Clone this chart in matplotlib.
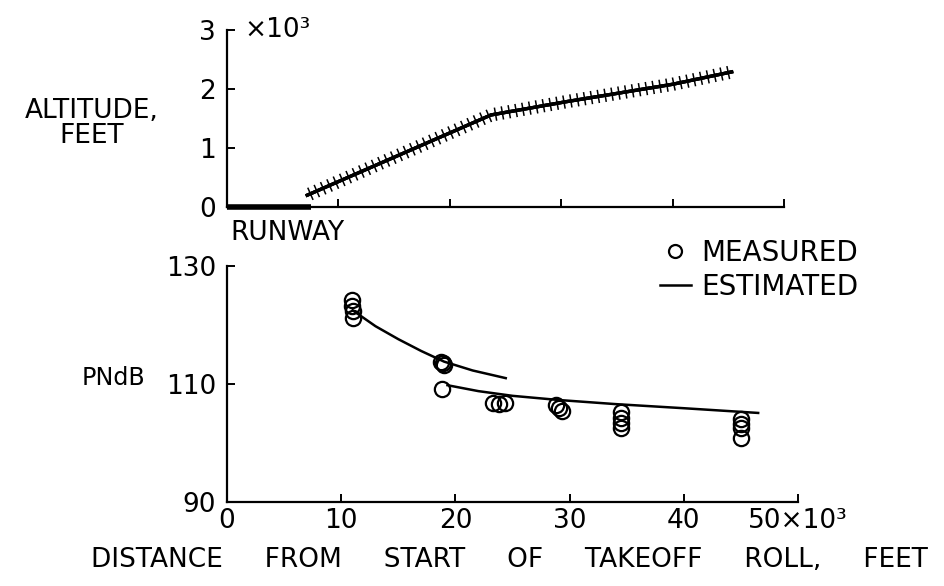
import matplotlib
matplotlib.use("Agg")
import matplotlib.pyplot as plt
import matplotlib.patheffects as pe

# altitude profile (distance in 1000 ft, altitude in ft)
runway_x = [0, 7.5]
runway_alt = [0, 0]
climb_x = [7.2, 23.7, 30.3, 40.0, 45.3]
climb_alt = [200, 1560, 1780, 2080, 2290]

# measured PNdB
meas_x = [10.9, 10.9, 11.0, 11.0,
          18.7, 18.9, 19.0, 18.8,
          23.3, 23.8, 24.3,
          28.8, 29.1, 29.3,
          34.5, 34.5, 34.5, 34.5,
          45.0, 45.0, 45.0, 45.0]
meas_pndb = [124.2, 123.3, 122.4, 121.2,
             113.7, 113.5, 113.3, 109.1,
             106.8, 106.6, 106.8,
             106.5, 106.0, 105.5,
             105.2, 104.3, 103.4, 102.6,
             104.0, 103.2, 102.6, 100.8]

# estimated curves
est1_x = [11.0, 13.0, 15.0, 17.0, 19.0, 21.5, 24.4]
est1_pndb = [122.5, 119.8, 117.6, 115.6, 113.8, 112.3, 111.0]
est2_x = [19.3, 22.0, 25.0, 29.0, 34.0, 40.0, 46.5]
est2_pndb = [109.8, 108.8, 108.0, 107.3, 106.6, 105.9, 105.1]

x_ticks = [0, 10, 20, 30, 40, 50]
x_ticklabels = ["0", "10", "20", "30", "40", "50×10³"]
alt_ticks = [0, 1000, 2000, 3000]
alt_ticklabels = ["0", "1", "2", "3"]
pndb_ticks = [90, 110, 130]

FS = 19
plt.rcParams["font.family"] = "DejaVu Sans"

fig = plt.figure(figsize=(9.44, 5.86), dpi=100)


def style(ax):
    for s in ("top", "right"):
        ax.spines[s].set_visible(False)
    for s in ("left", "bottom"):
        ax.spines[s].set_linewidth(1.6)
    ax.tick_params(direction="in", length=6, width=1.4, labelsize=FS, pad=8)


# altitude panel
ax1 = fig.add_axes([0.2405, 0.6468, 0.590, 0.302])
style(ax1)
ax1.plot(runway_x, runway_alt, color="black", lw=4, solid_capstyle="butt", clip_on=False)
ticked = [pe.withTickedStroke(angle=90, spacing=5, length=0.85, linewidth=1.1),
          pe.withTickedStroke(angle=-90, spacing=5, length=0.85, linewidth=1.1),
          pe.Normal()]
ax1.plot(climb_x, climb_alt, color="black", lw=2.4, path_effects=ticked)
ax1.set_xlim(0, 50)
ax1.set_ylim(0, 3000)
ax1.set_xticks(x_ticks[1:])
ax1.set_xticklabels([])
ax1.set_yticks(alt_ticks)
ax1.set_yticklabels(alt_ticklabels)
ax1.text(1.6, 3000, "×10³", fontsize=FS, va="center", ha="left")
ax1.text(0.3, -220, "RUNWAY", fontsize=FS, va="top", ha="left")
fig.text(0.097, 0.79, "ALTITUDE,\nFEET", fontsize=FS, ha="center", va="center",
         linespacing=0.95)

# PNdB panel
ax2 = fig.add_axes([0.2405, 0.1433, 0.605, 0.4027])
style(ax2)
ax2.plot(meas_x, meas_pndb, "o", mfc="none", mec="black", ms=11, mew=1.6,
         label="MEASURED")
ax2.plot(est1_x, est1_pndb, color="black", lw=1.8, label="ESTIMATED")
ax2.plot(est2_x, est2_pndb, color="black", lw=1.8)
ax2.set_xlim(0, 50)
ax2.set_ylim(90, 130)
ax2.set_xticks(x_ticks)
ax2.set_xticklabels(x_ticklabels)
ax2.set_yticks(pndb_ticks)
ax2.tick_params(axis="x", pad=4)
fig.text(0.12, 0.355, "PNdB", fontsize=FS * 0.9, ha="center", va="center")
ax2.legend(loc="upper right", bbox_to_anchor=(1.15, 1.22), frameon=False,
           fontsize=FS + 1, handlelength=1.1, handletextpad=0.4, labelspacing=0.2,
           markerscale=0.85)
fig.text(0.540, 0.044,
         "DISTANCE     FROM     START     OF     TAKEOFF     ROLL,     FEET",
         fontsize=FS, ha="center", va="center")

fig.savefig("out.png", dpi=100)
